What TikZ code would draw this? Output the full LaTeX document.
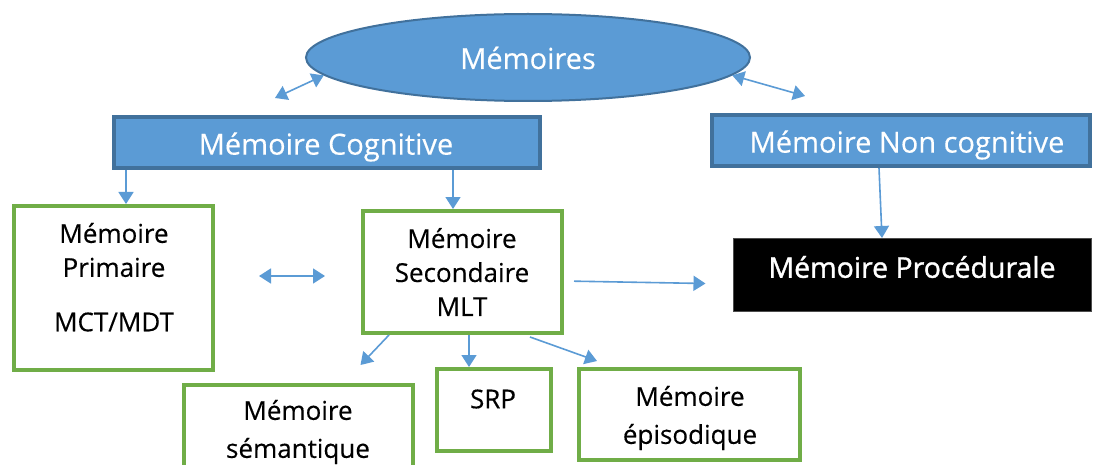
\documentclass[tikz,border=0pt]{standalone}
\usepackage{fontspec}
\setmainfont{Open Sans}[FakeBold=0.3]
\newfontfamily\procfont{Open Sans}[FakeBold=1.2]
\usetikzlibrary{arrows.meta,calc,shapes.geometric}
\definecolor{bfill}{HTML}{5B9BD5}
\definecolor{bline}{HTML}{41719C}
\definecolor{gline}{HTML}{70AD47}
\begin{document}
\begin{tikzpicture}[x=1pt,y=-1pt,
 bluebox/.style={rectangle,draw=bline,fill=bfill,line width=4pt,inner sep=0pt},
 greenbox/.style={rectangle,draw=gline,line width=4pt,inner sep=0pt,fill=white},
 wtxt/.style={text=white,font=\fontsize{29}{34}\selectfont,inner sep=0pt},
 btxt/.style={text=black,align=center,inner sep=0pt,font=\fontsize{26}{34}\selectfont},
 btxtb/.style={btxt,font=\fontsize{26}{38}\selectfont},
 arr/.style={draw=bfill,line width=1.6pt,-{Triangle[length=12pt,width=15pt]}},
 darr/.style={draw=bfill,line width=1.6pt,{Triangle[length=12pt,width=15pt]}-{Triangle[length=12pt,width=15pt]}}]
\useasboundingbox (0,0) rectangle (1094,465);
\fill[white] (0,0) rectangle (1094,465);
% shapes
\node[ellipse,draw=bline,fill=bfill,line width=2pt,minimum width=444pt,minimum height=87pt,inner sep=0pt] (ell) at (528,57.5) {};
\node[bluebox,minimum width=426pt,minimum height=51pt] (cog) at (327,142.5) {};
\node[bluebox,minimum width=378pt,minimum height=51pt] (noncog) at (901,140.5) {};
\node[greenbox,minimum width=199pt,minimum height=164pt] (prim) at (113.5,288) {};
\node[greenbox,minimum width=199pt,minimum height=122pt] (sec) at (462.5,272) {};
\node[rectangle,fill=black,draw=black!70,line width=1pt,inner sep=0pt,minimum width=358pt,minimum height=73pt] (proc) at (912,275) {};
\node[greenbox,minimum width=229pt,minimum height=93pt] (sem) at (298.5,431.5) {};
\node[greenbox,minimum width=114pt,minimum height=82pt] (srp) at (494,410) {};
\node[greenbox,minimum width=221pt,minimum height=91pt] (epi) at (689.5,414.5) {};
% texts
\node[wtxt] (ellT) at (528,58) {Mémoires};
\node[wtxt] (cogT) at (326,147) {Mémoire Cognitive};
\node[wtxt] (noncogT) at (907,145) {Mémoire Non cognitive};
\node[btxt] (primA) at (114,250) {Mémoire\\Primaire};
\node[btxt] (primB) at (114,322) {MCT/MDT};
\node[btxt] (secT) at (462,272) {Mémoire\\Secondaire\\MLT};
\node[text=white,inner sep=0pt,font=\procfont\fontsize{28.5}{34}\selectfont] (procT) at (912,267) {Mémoire Procédurale};
\node[btxtb] (semT) at (298,432) {Mémoire\\sémantique};
\node[btxt] (srpT) at (493,399) {SRP};
\node[btxtb] (epiT) at (690,418) {Mémoire\\épisodique};
% connectors
\coordinate (e1) at ($(cog.north west)+(163,-17)$);
\coordinate (e2) at ($(noncog.north west)+(95,-17)$);
\draw[darr] (ell.185) -- (e1);
\draw[darr] (ell.355) -- (e2);
\draw[arr] ($(cog.south west)+(14,0)$) -- ($(prim.north west)+(114,0)$);
\draw[arr] ($(cog.south west)+(341,0)$) -- ($(sec.north west)+(92,0)$);
\draw[darr,shorten <=44pt,shorten >=36pt] ($(prim.east)+(0,-12)$) -- ($(sec.west)+(0,4)$);
\draw[arr,shorten <=10pt,shorten >=27pt] ($(sec.east)+(0,9)$) -- ($(proc.west)+(0,9)$);
\draw[arr] ($(noncog.south)+(-22,0)$) -- ($(proc.north)+(-30,0)$);
\draw[arr] ($(sec.south west)+(28,0)$) -- ($(sem.north)+(62,-18)$);
\draw[arr] ($(sec.south)+(6.5,0)$) -- ($(srp.north)+(-25,0)$);
\draw[arr] ($(sec.south)+(67.5,2)$) -- ($(epi.north west)+(20,-6)$);
\end{tikzpicture}
\end{document}
